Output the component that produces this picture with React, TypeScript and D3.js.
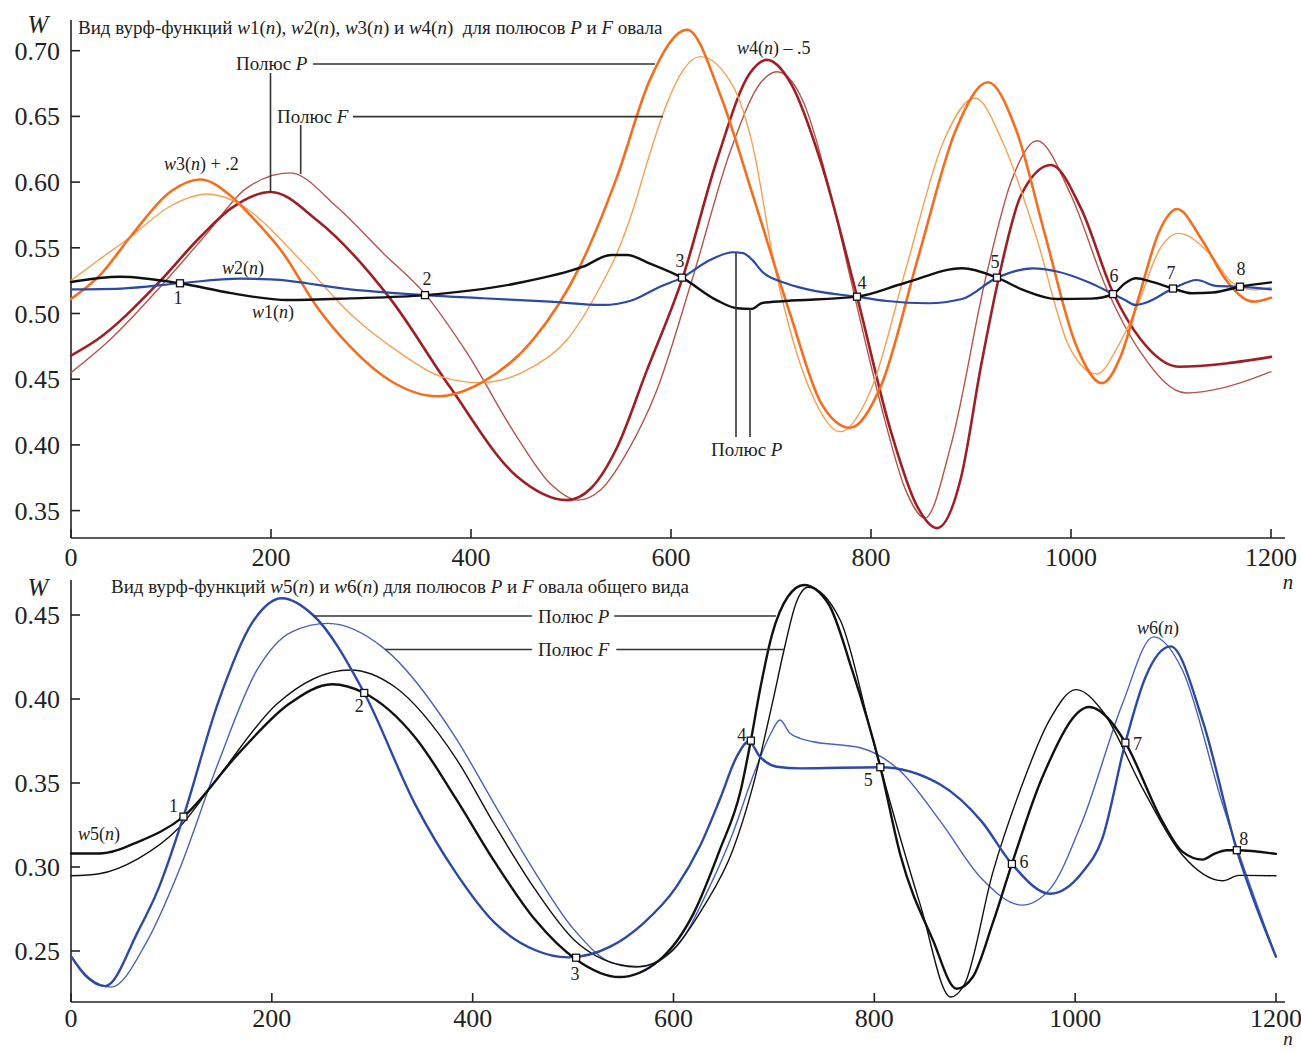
import React from 'react';
import * as d3 from 'd3';

type P = [number, number];

const FONT = '"Liberation Serif", "Times New Roman", Times, serif';

// ---------- ticks ----------
const xTickValues = [0, 200, 400, 600, 800, 1000, 1200];
const topYTickValues = [0.35, 0.4, 0.45, 0.5, 0.55, 0.6, 0.65, 0.7];
const botYTickValues = [0.25, 0.3, 0.35, 0.4, 0.45];

// ---------- top panel series ----------
const w1: P[] = [[0,0.524],[49,0.528],[109,0.523],[160,0.5155],[216,0.5103],[279,0.5115],[354,0.514],[446,0.523],[512,0.5356],[540,0.5445],[556,0.5445],[579,0.538],[611,0.5273],[646,0.51],[666,0.504],[681,0.5035],[691,0.508],[715,0.5095],[786,0.5128],[833,0.523],[891,0.5344],[926,0.5273],[952,0.518],[986,0.511],[1020,0.5113],[1042,0.5148],[1054,0.523],[1065,0.5268],[1081,0.524],[1102,0.519],[1121,0.5154],[1142,0.516],[1169,0.5204],[1200,0.5237]];
const w2: P[] = [[0,0.5184],[50,0.519],[109,0.523],[169,0.5265],[200,0.526],[279,0.5184],[354,0.514],[412,0.5116],[479,0.509],[532,0.5065],[562,0.5103],[589,0.5204],[611,0.5273],[639,0.5407],[662,0.5466],[672,0.546],[681,0.541],[691,0.532],[715,0.523],[748,0.5166],[786,0.5128],[816,0.5095],[857,0.5078],[891,0.511],[926,0.5273],[962,0.5344],[986,0.532],[1020,0.523],[1042,0.5148],[1054,0.5103],[1064,0.5065],[1074,0.508],[1102,0.519],[1126,0.5255],[1145,0.521],[1169,0.5204],[1200,0.5184]];
const w3P: P[] = [[0,0.511],[30,0.53],[59,0.558],[100,0.593],[129,0.602],[162,0.588],[179,0.575],[212,0.546],[246,0.505],[279,0.475],[319,0.449],[366,0.437],[412,0.448],[462,0.48],[509,0.536],[546,0.604],[579,0.678],[616,0.716],[650,0.665],[681,0.592],[719,0.5],[750,0.432],[779,0.413],[810,0.445],[848,0.545],[885,0.64],[917,0.676],[945,0.64],[974,0.56],[1005,0.476],[1031,0.447],[1050,0.468],[1068,0.513],[1088,0.562],[1106,0.5795],[1131,0.556],[1155,0.5255],[1182,0.509],[1200,0.512]];
const w3F: P[] = [[0,0.525],[30,0.542],[59,0.558],[100,0.582],[136,0.591],[162,0.586],[179,0.578],[229,0.541],[279,0.5],[329,0.47],[370,0.452],[409,0.4474],[462,0.4595],[496,0.48],[529,0.52],[546,0.546],[562,0.579],[579,0.622],[596,0.66],[612,0.685],[629,0.6955],[662,0.673],[681,0.63],[704,0.535],[740,0.44],[769,0.41],[800,0.442],[836,0.537],[872,0.63],[904,0.664],[932,0.63],[965,0.559],[998,0.475],[1026,0.454],[1047,0.475],[1067,0.507],[1088,0.548],[1108,0.561],[1138,0.546],[1162,0.523],[1182,0.518],[1200,0.52]];
const w4P: P[] = [[0,0.468],[26,0.48],[87,0.523],[129,0.558],[160,0.58],[200,0.5925],[246,0.571],[319,0.5115],[379,0.444],[446,0.376],[496,0.358],[520,0.367],[546,0.398],[575,0.455],[612,0.528],[646,0.617],[679,0.683],[696,0.693],[720,0.675],[750,0.615],[786,0.513],[820,0.41],[845,0.355],[866,0.3367],[890,0.375],[910,0.46],[928,0.528],[950,0.59],[980,0.613],[1010,0.58],[1042,0.516],[1070,0.48],[1108,0.4595],[1155,0.462],[1200,0.467]];
const w4F: P[] = [[0,0.455],[39,0.48],[89,0.52],[135,0.56],[175,0.595],[219,0.607],[266,0.581],[312,0.546],[355,0.514],[396,0.47],[446,0.406],[480,0.37],[507,0.358],[530,0.366],[555,0.393],[585,0.44],[622,0.528],[660,0.625],[690,0.676],[706,0.684],[730,0.665],[760,0.59],[780,0.525],[810,0.43],[835,0.365],[854,0.3444],[880,0.4],[915,0.528],[940,0.6],[966,0.6315],[1000,0.59],[1035,0.52],[1070,0.47],[1115,0.4395],[1155,0.444],[1200,0.4557]];
const topPoints: P[] = [[109,0.523],[354,0.514],[611,0.5273],[786,0.5128],[926,0.5273],[1042,0.5148],[1102,0.519],[1169,0.5204]];

// ---------- bottom panel series ----------
const w5P: P[] = [[0,0.308],[28,0.308],[67,0.315],[112,0.33],[166,0.367],[217,0.397],[260,0.4088],[292,0.4036],[343,0.377],[383,0.341],[422,0.303],[462,0.2687],[503,0.245],[546,0.2345],[586,0.2446],[620,0.2724],[646,0.31],[667,0.3458],[677,0.3752],[686,0.405],[698,0.438],[714,0.461],[730,0.4679],[754,0.457],[778,0.417],[806,0.3594],[826,0.307],[858,0.257],[882,0.2275],[898,0.2345],[918,0.2667],[937,0.3018],[967,0.353],[1014,0.3952],[1035,0.387],[1050,0.374],[1087,0.327],[1107,0.309],[1127,0.3044],[1139,0.308],[1151,0.31],[1161,0.31],[1200,0.3078]];
const w5F: P[] = [[0,0.2948],[28,0.296],[67,0.305],[107,0.323],[146,0.353],[205,0.397],[278,0.4173],[323,0.407],[383,0.365],[422,0.325],[462,0.2868],[501,0.2566],[530,0.245],[563,0.2405],[596,0.2488],[630,0.2764],[659,0.31],[679,0.348],[699,0.399],[710,0.429],[722,0.457],[734,0.4665],[766,0.447],[798,0.377],[826,0.317],[846,0.277],[876,0.2226],[890,0.2305],[918,0.2968],[946,0.347],[974,0.387],[1001,0.4056],[1027,0.393],[1067,0.347],[1107,0.307],[1147,0.2918],[1163,0.295],[1200,0.2948]];
const w6P: P[] = [[0,0.247],[15,0.235],[34,0.2291],[67,0.262],[87,0.287],[112,0.33],[146,0.397],[180,0.445],[210,0.46],[241,0.45],[292,0.4036],[343,0.337],[383,0.2968],[422,0.2667],[462,0.2506],[495,0.2462],[537,0.2526],[570,0.2665],[603,0.2883],[626,0.312],[646,0.34],[663,0.3657],[675,0.3748],[686,0.3657],[703,0.3597],[726,0.3587],[806,0.3594],[866,0.349],[907,0.327],[937,0.3018],[975,0.2841],[1007,0.2967],[1027,0.3169],[1050,0.374],[1070,0.413],[1095,0.4313],[1127,0.387],[1161,0.31],[1200,0.2466]];
const w6F: P[] = [[0,0.247],[18,0.234],[40,0.2285],[75,0.255],[107,0.297],[146,0.361],[185,0.417],[220,0.44],[256,0.445],[312,0.43],[383,0.377],[422,0.337],[462,0.297],[501,0.2627],[541,0.2426],[567,0.2407],[603,0.2526],[636,0.2883],[659,0.32],[679,0.3538],[697,0.3796],[706,0.3875],[716,0.3796],[726,0.3766],[738,0.3747],[786,0.371],[826,0.357],[866,0.327],[907,0.293],[947,0.2773],[975,0.287],[1007,0.327],[1047,0.397],[1078,0.437],[1107,0.417],[1147,0.337],[1200,0.2466]];
const botPoints: P[] = [[112,0.33],[292,0.4036],[503,0.246],[677,0.3752],[806,0.3594],[937,0.3018],[1050,0.374],[1161,0.31]];

const pointNames = ['1', '2', '3', '4', '5', '6', '7', '8'];

// ---------- colours ----------
const C_ORANGE = '#f36f1f';
const C_ORANGE_L = '#f6a056';
const C_RED = '#9e1f24';
const C_RED_L = '#b4554c';
const C_BLUE = '#2c49a3';
const C_BLUE_L = '#4862b8';
const C_BLACK = '#111111';

// ---------- scales ----------
const xTop = d3.scaleLinear().domain([0, 1200]).range([71, 1271]);
const yTop = d3.scaleLinear().domain([0.35, 0.7]).range([510.6, 50.7]);
const xBot = d3.scaleLinear().domain([0, 1200]).range([71, 1276]);
const yBot = d3.scaleLinear().domain([0.25, 0.45]).range([951, 615]);

function Rich({ x, y, text, size, anchor }: { x: number; y: number; text: string; size: number; anchor?: string }) {
  const parts = text.split('*');
  return (
    <text x={x} y={y} fontSize={size} fontFamily={FONT} textAnchor={anchor || 'start'} fill="#222" style={{ whiteSpace: 'pre' }}>
      {parts.map((p, i) => (p ? <tspan key={i} fontStyle={i % 2 ? 'italic' : 'normal'}>{p}</tspan> : null))}
    </text>
  );
}

function Axes({ xs, ys, axisY, axisTop, yTicks }: { xs: any; ys: any; axisY: number; axisTop: number; yTicks: number[] }) {
  const x0 = xs(0);
  return (
    <g stroke="#222" strokeWidth={1.6} fill="none">
      <line x1={x0} y1={axisTop} x2={x0} y2={axisY} />
      <line x1={x0} y1={axisY} x2={1285} y2={axisY} />
      {xTickValues.map((t) => (
        <line key={'xt' + t} x1={xs(t)} x2={xs(t)} y1={axisY} y2={axisY - 9} />
      ))}
      {yTicks.map((t) => (
        <line key={'yt' + t} x1={x0} x2={x0 + 9} y1={ys(t)} y2={ys(t)} />
      ))}
    </g>
  );
}

function AxisLabels({ xs, ys, axisY, labelDy, yTicks, wY, nY, nSize }: { xs: any; ys: any; axisY: number; labelDy: number; yTicks: number[]; wY: number; nY: number; nSize: number }) {
  const fmt = d3.format('.2f');
  return (
    <g fontFamily={FONT} fill="#222">
      {xTickValues.map((t) => (
        <text key={'xl' + t} x={xs(t)} y={axisY + labelDy} fontSize={26} textAnchor="middle">{t}</text>
      ))}
      {yTicks.map((t) => (
        <text key={'yl' + t} x={60} y={ys(t) + 9} fontSize={26} textAnchor="end">{fmt(t)}</text>
      ))}
      <text x={38} y={wY} fontSize={25} fontStyle="italic" textAnchor="middle">W</text>
      <text x={1288} y={nY} fontSize={nSize} fontStyle="italic" textAnchor="middle">n</text>
    </g>
  );
}

function Curve({ data, xs, ys, color, width }: { data: P[]; xs: any; ys: any; color: string; width: number }) {
  const gen = d3.line<P>().x((d) => xs(d[0])).y((d) => ys(d[1])).curve(d3.curveMonotoneX);
  return <path d={gen(data) || ''} fill="none" stroke={color} strokeWidth={width} strokeLinejoin="round" strokeLinecap="round" />;
}

function Markers({ pts, xs, ys }: { pts: P[]; xs: any; ys: any }) {
  return (
    <g>
      {pts.map((p, i) => (
        <rect key={i} x={xs(p[0]) - 3.5} y={ys(p[1]) - 3.5} width={7} height={7} fill="#fff" stroke="#111" strokeWidth={1.3} />
      ))}
    </g>
  );
}

function Leader({ pts, xs, ys }: { pts: P[]; xs: any; ys: any }) {
  const gen = d3.line<P>().x((d) => xs(d[0])).y((d) => ys(d[1]));
  return <path d={gen(pts) || ''} fill="none" stroke="#333" strokeWidth={1.6} />;
}

const topNumPos: P[] = [[107, 0.512], [356, 0.5265], [609, 0.54], [791, 0.5235], [924, 0.5395], [1043, 0.5285], [1100, 0.5305], [1170, 0.5335]];
const botNumPos: P[] = [[102, 0.3365], [287, 0.396], [502, 0.2365], [668, 0.3785], [794, 0.3515], [949, 0.303], [1062, 0.373], [1168, 0.3165]];

export default function App() {
  return (
    <svg width={1301} height={1051} style={{ position: 'absolute', left: 0, top: 0, background: '#fff' }}>
      <rect x={0} y={0} width={1301} height={1051} fill="#fff" />
      {/* ---------- top panel ---------- */}
      <Axes xs={xTop} ys={yTop} axisY={538} axisTop={20} yTicks={topYTickValues} />
      <AxisLabels xs={xTop} ys={yTop} axisY={538} labelDy={28} yTicks={topYTickValues} wY={33} nY={589} nSize={21} />
      <Rich x={78} y={34} size={19} text={'Вид вурф-функций *w*1(*n*), *w*2(*n*), *w*3(*n*) и *w*4(*n*)  для полюсов *P* и *F* овала'} />

      <Curve data={w4F} xs={xTop} ys={yTop} color={C_RED_L} width={1.4} />
      <Curve data={w4P} xs={xTop} ys={yTop} color={C_RED} width={2.6} />
      <Curve data={w3F} xs={xTop} ys={yTop} color={C_ORANGE_L} width={1.4} />
      <Curve data={w3P} xs={xTop} ys={yTop} color={C_ORANGE} width={2.6} />
      <Curve data={w2} xs={xTop} ys={yTop} color={C_BLUE} width={2.2} />
      <Curve data={w1} xs={xTop} ys={yTop} color={C_BLACK} width={2.4} />

      <Leader xs={xTop} ys={yTop} pts={[[242, 0.6899], [584, 0.6899]]} />
      <Leader xs={xTop} ys={yTop} pts={[[199.5, 0.683], [199.5, 0.5925]]} />
      <Leader xs={xTop} ys={yTop} pts={[[282, 0.6498], [592, 0.6498]]} />
      <Leader xs={xTop} ys={yTop} pts={[[229.7, 0.6435], [229.7, 0.6062]]} />
      <Leader xs={xTop} ys={yTop} pts={[[665, 0.546], [665, 0.406]]} />
      <Leader xs={xTop} ys={yTop} pts={[[679, 0.5034], [679, 0.406]]} />

      <Markers pts={topPoints} xs={xTop} ys={yTop} />
      {topNumPos.map((p, i) => (
        <text key={'tn' + i} x={xTop(p[0])} y={yTop(p[1]) + 6} fontSize={18} fontFamily={FONT} textAnchor="middle" fill="#222">{pointNames[i]}</text>
      ))}

      <Rich x={236} y={70} size={19} text={'Полюс *P*'} />
      <Rich x={277} y={123} size={19} text={'Полюс *F*'} />
      <Rich x={711} y={456} size={19} text={'Полюс *P*'} />
      <Rich x={164} y={170} size={18} text={'*w*3(*n*) + .2'} />
      <Rich x={222} y={274} size={18} text={'*w*2(*n*)'} />
      <Rich x={252} y={318} size={18} text={'*w*1(*n*)'} />
      <Rich x={737} y={54} size={18} text={'*w*4(*n*) – .5'} />

      {/* ---------- bottom panel ---------- */}
      <Axes xs={xBot} ys={yBot} axisY={1002} axisTop={580} yTicks={botYTickValues} />
      <AxisLabels xs={xBot} ys={yBot} axisY={1002} labelDy={25} yTicks={botYTickValues} wY={596} nY={1045} nSize={19} />
      <Rich x={111} y={593} size={19} text={'Вид вурф-функций *w*5(*n*) и *w*6(*n*) для полюсов *P* и *F* овала общего вида'} />

      <Curve data={w6F} xs={xBot} ys={yBot} color={C_BLUE_L} width={1.4} />
      <Curve data={w5F} xs={xBot} ys={yBot} color={C_BLACK} width={1.4} />
      <Curve data={w6P} xs={xBot} ys={yBot} color={C_BLUE} width={2.4} />
      <Curve data={w5P} xs={xBot} ys={yBot} color={C_BLACK} width={2.4} />

      <Leader xs={xBot} ys={yBot} pts={[[241, 0.4494], [459, 0.4494]]} />
      <Leader xs={xBot} ys={yBot} pts={[[541, 0.4494], [702, 0.4494]]} />
      <Leader xs={xBot} ys={yBot} pts={[[313, 0.4295], [459, 0.4295]]} />
      <Leader xs={xBot} ys={yBot} pts={[[543, 0.4295], [710, 0.4295]]} />

      <Markers pts={botPoints} xs={xBot} ys={yBot} />
      {botNumPos.map((p, i) => (
        <text key={'bn' + i} x={xBot(p[0])} y={yBot(p[1]) + 6} fontSize={18} fontFamily={FONT} textAnchor="middle" fill="#222">{pointNames[i]}</text>
      ))}

      <Rich x={538} y={623} size={19} text={'Полюс *P*'} />
      <Rich x={538} y={656} size={19} text={'Полюс *F*'} />
      <Rich x={78} y={840} size={18} text={'*w*5(*n*)'} />
      <Rich x={1137} y={634} size={18} text={'*w*6(*n*)'} />
    </svg>
  );
}
